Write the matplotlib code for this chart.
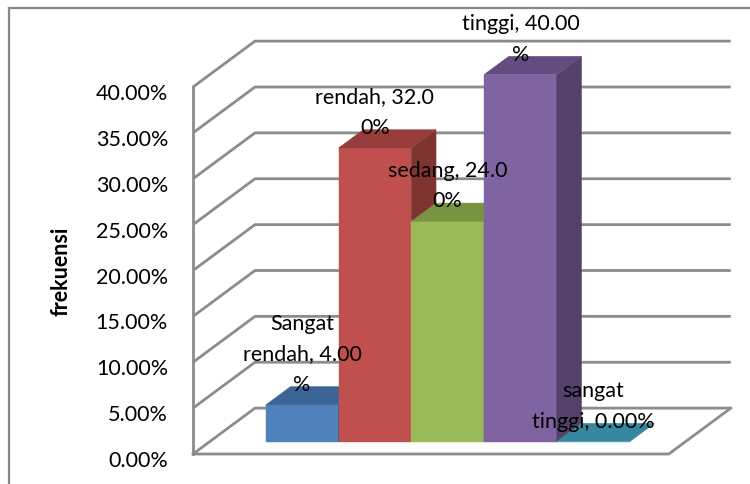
import matplotlib
matplotlib.use("Agg")
import matplotlib.pyplot as plt
from matplotlib.patches import Polygon
from matplotlib.lines import Line2D
from matplotlib.ticker import FuncFormatter
from matplotlib.transforms import ScaledTranslation
from matplotlib.font_manager import FontProperties

plt.rcParams["font.family"] = ["Lato", "DejaVu Sans"]

categories = ["Sangat rendah", "rendah", "sedang", "tinggi", "sangat tinggi"]
values = [4.0, 32.0, 24.0, 40.0, 0.0]
y_ticks = [0, 5, 10, 15, 20, 25, 30, 35, 40]
axis_title = "frekuensi"

front_colors = ["#4F81BD", "#C0504D", "#9BBB59", "#8064A2", "#4BACC6"]
top_colors = ["#3C6595", "#963D3B", "#789441", "#634C80", "#34879C"]
side_colors = ["#345784", "#7F3431", "#667D37", "#53416A", "#2C7284"]

FIG_W, FIG_H, DPI = 750, 485, 100
FS = 15.5
GRID = "#8c8c8c"

fig = plt.figure(figsize=(FIG_W / DPI, FIG_H / DPI), dpi=DPI)
fig.patch.set_facecolor("white")

n = len(categories)
x_left, x_right = -1.27, n - 1 + 1.27
ax = fig.add_axes([193 / FIG_W, (FIG_H - 455) / FIG_H, 475.8 / FIG_W, 367 / FIG_H])
ax.set_xlim(x_left, x_right)
ax.set_ylim(y_ticks[0], y_ticks[-1])
for s in ax.spines.values():
    s.set_visible(False)
ax.set_xticks([])
ax.patch.set_alpha(0)

# oblique depth vector (category units, percent units)
dx, dy = 0.852, 5.0
f0, f1 = 0.27, 0.67

# walls and floor
for g in y_ticks:
    ax.plot([x_left, x_left + dx, x_right + dx], [g, g + dy, g + dy],
            color=GRID, lw=2.0, clip_on=False, zorder=1, solid_capstyle="butt")
ax.plot([x_left, x_left], [y_ticks[0], y_ticks[-1]], color=GRID, lw=2.0,
        clip_on=False, zorder=1)
ax.plot([x_left, x_right, x_right + dx], [0, 0, dy], color=GRID, lw=2.0,
        clip_on=False, zorder=1)

# columns: front faces via bar, side and top faces as polygons
xs = [i + f0 * dx for i in range(n)]
bars = ax.bar(xs, values, width=1.0, bottom=f0 * dy, color=front_colors,
              edgecolor=front_colors, linewidth=0.3)
for i, (b, v) in enumerate(zip(bars, values)):
    z = 3 + i
    b.set_zorder(z)
    b.set_clip_on(False)
    xr = i + 0.5
    side = [(xr + f0 * dx, f0 * dy), (xr + f1 * dx, f1 * dy),
            (xr + f1 * dx, v + f1 * dy), (xr + f0 * dx, v + f0 * dy)]
    top = [(i - 0.5 + f0 * dx, v + f0 * dy), (xr + f0 * dx, v + f0 * dy),
           (xr + f1 * dx, v + f1 * dy), (i - 0.5 + f1 * dx, v + f1 * dy)]
    ax.add_patch(Polygon(side, closed=True, facecolor=side_colors[i],
                         edgecolor=side_colors[i], lw=0.3, zorder=z + 0.1, clip_on=False))
    ax.add_patch(Polygon(top, closed=True, facecolor=top_colors[i],
                         edgecolor=top_colors[i], lw=0.3, zorder=z + 0.2, clip_on=False))

# data labels, wrapped the way the spreadsheet lays them out
renderer = fig.canvas.get_renderer()
prop = FontProperties(family=["Lato", "DejaVu Sans"], size=FS)


def text_px(s):
    w, h, d = renderer.get_text_width_height_descent(s, prop, ismath=False)
    return w


def wrap_label(text, max_px):
    units, word = [], ""
    for ch in text:
        if ch == " ":
            if word:
                units.append(word)
                word = ""
            units.append(" ")
        elif ch.isdigit() or ch in ".%":
            if word:
                units.append(word)
                word = ""
            units.append(ch)
        else:
            word += ch
    if word:
        units.append(word)
    lines, cur, space = [], "", False
    for u in units:
        if u == " ":
            space = True
            continue
        cand = cur + (" " if (space and cur) else "") + u
        if cur == "" or text_px(cand) <= max_px:
            cur = cand
        else:
            lines.append(cur)
            cur = u
        space = False
    lines.append(cur)
    return "\n".join(lines)


WRAP_PX = 8.0 * FS
for i, (c, v) in enumerate(zip(categories, values)):
    label = wrap_label(f"{c}, {v:.2f}%", WRAP_PX)
    ax.annotate(label, (xs[i], v + f0 * dy), xytext=(0, 8), textcoords="offset points",
                ha="center", va="bottom", fontsize=FS, linespacing=1.65,
                annotation_clip=False, zorder=20)

# value axis
ax.set_yticks(y_ticks)
ax.yaxis.set_major_formatter(FuncFormatter(lambda v, p: f"{v:.2f}%"))
ax.tick_params(axis="y", length=0, pad=18, labelsize=FS)
shift = ScaledTranslation(0, -4 / DPI, fig.dpi_scale_trans)
for lab in ax.get_yticklabels():
    lab.set_transform(lab.get_transform() + shift)
ax.set_ylabel(axis_title, fontsize=FS, fontweight="bold")
ax.yaxis.set_label_coords(-0.255, 0.5)

# chart border
fig.add_artist(Line2D([9 / FIG_W, 9 / FIG_W], [0, 1 - 9 / FIG_H], color="#878787", lw=1.6))
fig.add_artist(Line2D([9 / FIG_W, 1], [1 - 9 / FIG_H, 1 - 9 / FIG_H], color="#878787", lw=1.6))

fig.savefig("out.png", dpi=DPI, facecolor="white")
